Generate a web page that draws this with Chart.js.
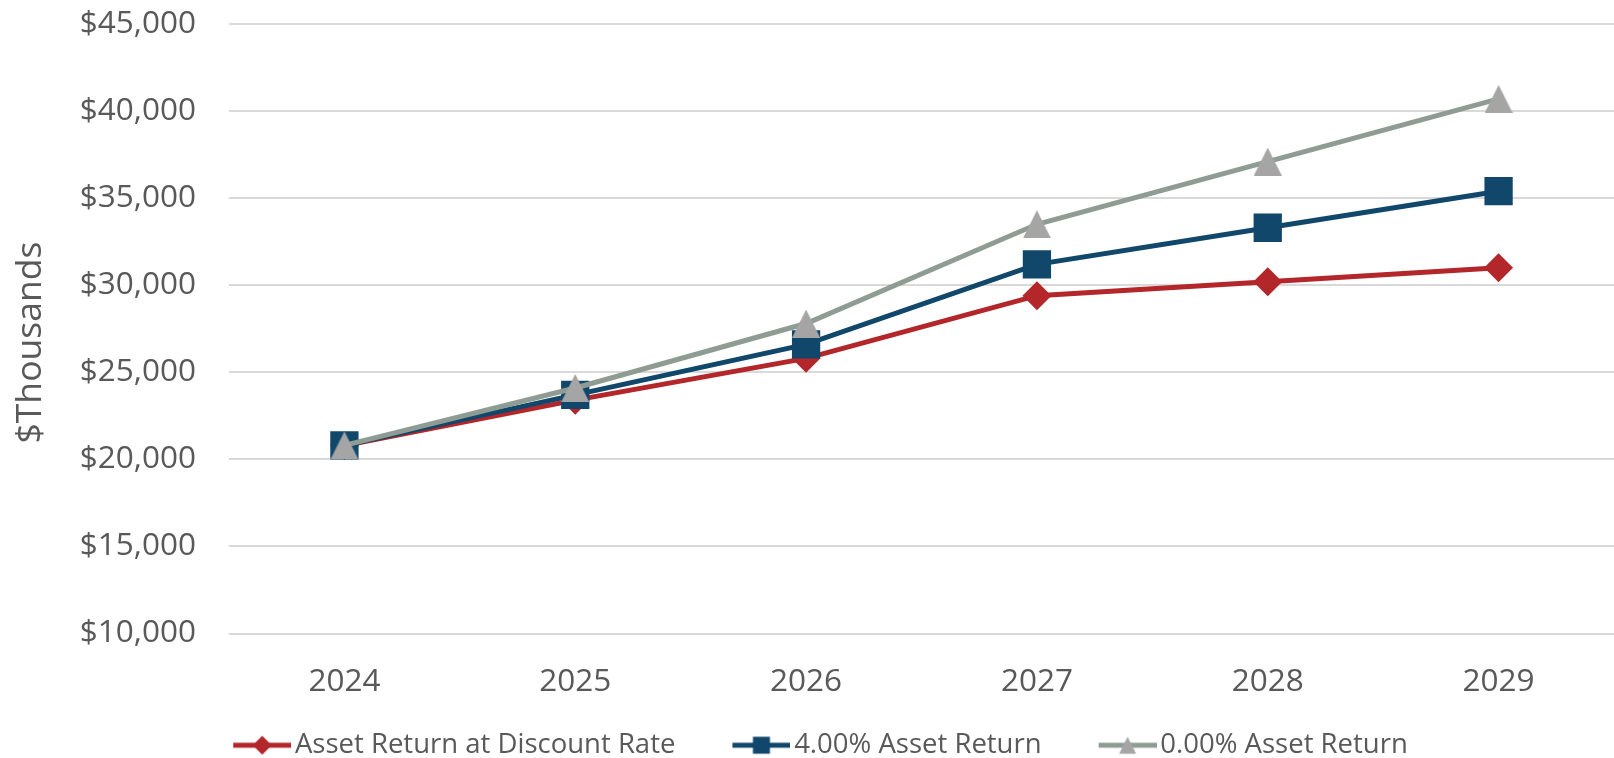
<!DOCTYPE html>
<html>
<head>
<meta charset="utf-8">
<script src="https://cdn.jsdelivr.net/npm/chart.js@4.4.0/dist/chart.umd.min.js"></script>
<style>
  html, body { margin: 0; padding: 0; background: #fff; }
  .chart-wrap { position: relative; width: 1614px; height: 758px; }
</style>
</head>
<body>
<div class="chart-wrap">
  <canvas id="assetChart"></canvas>
</div>
<script>
// Projected asset values ($ thousands) per plan year
const years = ['2024', '2025', '2026', '2027', '2028', '2029'];
const discountRateReturn = [20800, 23400, 25800, 29400, 30200, 31000];
const fourPctReturn = [20800, 23700, 26600, 31200, 33300, 35400];
const zeroPctReturn = [20800, 24100, 27800, 33500, 37100, 40700];

const seriesLabels = ['Asset Return at Discount Rate', '4.00% Asset Return', '0.00% Asset Return'];
const yTicks = { min: 10000, max: 45000, step: 5000 };

const RED = '#B3262A';
const BLUE = '#11476B';
const GRAY_LINE = '#8F9C93';
const GRAY_MARK = '#A5A5A5';
const TEXT = '#595959';

// Excel-style triangle: apex and base sit evenly around the point
function triangleIcon(w, h, color) {
  const c = document.createElement('canvas');
  c.width = w;
  c.height = h;
  const g = c.getContext('2d');
  g.fillStyle = color;
  g.beginPath();
  g.moveTo(w / 2, 0);
  g.lineTo(w, h);
  g.lineTo(0, h);
  g.closePath();
  g.fill();
  return c;
}

// legend swatch: short line with the series marker, drawn at the right end
// of a wider transparent canvas so items get spaced apart horizontally
// without growing the legend's height
const LEGEND_BOX = 75;
function legendIcon(lineColor, markColor, shape) {
  const w = LEGEND_BOX + 20, h = 30, s = 17, seg = 58;
  const c = document.createElement('canvas');
  c.width = w;
  c.height = h;
  const g = c.getContext('2d');
  const x0 = w - seg;
  g.strokeStyle = lineColor;
  g.lineWidth = 5;
  g.beginPath();
  g.moveTo(x0, h / 2);
  g.lineTo(w, h / 2);
  g.stroke();
  g.fillStyle = markColor;
  g.beginPath();
  const cx = x0 + seg / 2, cy = h / 2;
  if (shape === 'diamond') {
    const r = s / 2 + 1;
    g.moveTo(cx, cy - r);
    g.lineTo(cx + r, cy);
    g.lineTo(cx, cy + r);
    g.lineTo(cx - r, cy);
  } else if (shape === 'square') {
    g.rect(cx - s / 2, cy - s / 2, s, s);
  } else {
    g.moveTo(cx, cy - s / 2);
    g.lineTo(cx + s / 2, cy + s / 2);
    g.lineTo(cx - s / 2, cy + s / 2);
  }
  g.closePath();
  g.fill();
  return c;
}

const legendIcons = [
  legendIcon(RED, RED, 'diamond'),
  legendIcon(BLUE, BLUE, 'square'),
  legendIcon(GRAY_LINE, GRAY_MARK, 'triangle')
];

const ctx = document.getElementById('assetChart').getContext('2d');

new Chart(ctx, {
  type: 'line',
  data: {
    labels: years,
    datasets: [
      {
        label: seriesLabels[0],
        data: discountRateReturn,
        borderColor: RED,
        backgroundColor: RED,
        borderWidth: 5,
        pointStyle: 'rectRot',
        pointRadius: 14.5,
        pointBorderWidth: 0,
        pointBackgroundColor: RED,
        order: 2
      },
      {
        label: seriesLabels[1],
        data: fourPctReturn,
        borderColor: BLUE,
        backgroundColor: BLUE,
        borderWidth: 5,
        pointStyle: 'rect',
        pointRadius: 20,
        pointBorderWidth: 0,
        pointBackgroundColor: BLUE,
        order: 1
      },
      {
        label: seriesLabels[2],
        data: zeroPctReturn,
        borderColor: GRAY_LINE,
        backgroundColor: GRAY_MARK,
        borderWidth: 5,
        pointStyle: triangleIcon(28, 28, GRAY_MARK),
        pointRadius: 14,
        pointBorderWidth: 0,
        pointBackgroundColor: GRAY_MARK,
        order: 0
      }
    ]
  },
  options: {
    responsive: true,
    maintainAspectRatio: false,
    animation: false,
    elements: { line: { tension: 0 } },
    layout: {
      autoPadding: false,
      // legend sits lower than Chart.js would place it
      padding: { top: 24, right: 0, bottom: -11, left: 0 }
    },
    plugins: {
      title: { display: false },
      tooltip: { enabled: false },
      legend: {
        position: 'bottom',
        labels: {
          usePointStyle: true,
          pointStyleWidth: LEGEND_BOX,
          padding: 30,
          color: TEXT,
          font: { family: 'Open Sans', size: 27.5 },
          sort: (a, b) => a.datasetIndex - b.datasetIndex,
          generateLabels: (chart) => {
            const items = Chart.defaults.plugins.legend.labels.generateLabels(chart);
            items.forEach(item => {
              item.pointStyle = legendIcons[item.datasetIndex];
            });
            return items;
          }
        }
      }
    },
    scales: {
      x: {
        offset: true,
        grid: { display: false, drawTicks: false },
        border: { display: false },
        ticks: {
          color: TEXT,
          padding: 30,
          font: { family: 'Open Sans', size: 31.5 }
        },
        afterFit: (scale) => { scale.height = 68; }
      },
      y: {
        min: yTicks.min,
        max: yTicks.max,
        grid: { color: '#D9D9D9', lineWidth: 2, drawTicks: false },
        border: { display: false },
        title: {
          display: true,
          // trailing spaces nudge the rotated title a bit lower
          text: '$Thousands\u00A0\u00A0\u00A0',
          color: TEXT,
          padding: { top: 10, bottom: 0 },
          font: { family: 'Open Sans', size: 35.5 }
        },
        ticks: {
          stepSize: yTicks.step,
          color: TEXT,
          padding: 33,
          font: { family: 'Open Sans', size: 31.5 },
          callback: (v) => '$' + v.toLocaleString('en-US')
        },
        afterFit: (scale) => {
          scale.width = 229;
          // tick padding is only meant to push labels away from the plot
          scale.paddingTop = 0;
          scale.paddingBottom = 0;
        }
      }
    }
  }
});
</script>
</body>
</html>
